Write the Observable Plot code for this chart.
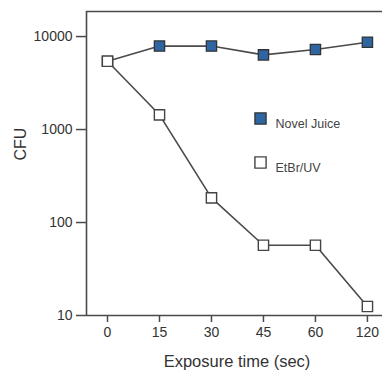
<!DOCTYPE html>
<html>
<head>
<meta charset="utf-8">
<script src="https://cdn.jsdelivr.net/npm/d3@7"></script>
<script src="https://cdn.jsdelivr.net/npm/@observablehq/plot@0.6"></script>
<style>
  html, body { margin: 0; padding: 0; background: white; }
</style>
</head>
<body>
<div id="chart"></div>
<script>
// ---- data ----
const timeLabels = ["0", "15", "30", "45", "60", "120"];
const novelJuice = [5430, 7900, 7900, 6350, 7250, 8700];
const etbrUV     = [5430, 1440, 184, 57, 57, 12.5];
const seriesNames = ["Novel Juice", "EtBr/UV"];
const yTicks = [10, 100, 1000, 10000];
const xTitle = "Exposure time (sec)";
const yTitle = "CFU";

// ---- build table ----
const idx = timeLabels.map((_, i) => i);
const novelData = idx.map(i => ({i, v: novelJuice[i]}));
const etbrData  = idx.map(i => ({i, v: etbrUV[i]}));

const lineColor = "#4a4a4a";
const blue = "#2d66a3";
const font = "'Liberation Sans', Arial, Helvetica, sans-serif";
const yMax = 18600, xLo = -0.404, xHi = 5.29;

const chart = Plot.plot({
  width: 382,
  height: 372,
  marginLeft: 86,
  marginRight: 0,
  marginTop: 11,
  marginBottom: 57,
  style: {fontFamily: font, fontSize: "14px", color: "#333", background: "white"},
  x: {type: "linear", domain: [xLo, xHi]},
  y: {type: "log", domain: [10, yMax]},
  marks: [
    // frame: left, top, bottom
    Plot.ruleX([xLo], {stroke: lineColor, strokeWidth: 1.6}),
    Plot.ruleY([yMax], {stroke: lineColor, strokeWidth: 1.6}),
    Plot.ruleY([10], {stroke: lineColor, strokeWidth: 1.6}),
    Plot.axisX(idx, {tickSize: 7, tickPadding: 5, tickFormat: i => timeLabels[i], label: null,
      stroke: lineColor, strokeWidth: 1.5, fill: "#333", fontSize: 14}),
    Plot.axisY(yTicks, {tickSize: 10, tickPadding: 4, tickFormat: d => String(d), label: null,
      stroke: lineColor, strokeWidth: 1.5, fill: "#333", fontSize: 14}),
    // axis titles
    Plot.text([xTitle], {frameAnchor: "bottom", dx: 2.5, dy: 46, fontSize: 16.5, fill: "#333", lineAnchor: "middle"}),
    Plot.text([yTitle], {frameAnchor: "left", dx: -65.5, dy: -3, rotate: -90, fontSize: 16, fill: "#333"}),
    // lines
    Plot.line(novelData, {x: "i", y: "v", stroke: lineColor, strokeWidth: 1.6}),
    Plot.line(etbrData, {x: "i", y: "v", stroke: lineColor, strokeWidth: 1.6}),
    // markers
    Plot.dot(novelData, {x: "i", y: "v", symbol: "square", r: 5.8, fill: blue, stroke: "#333", strokeWidth: 1.3}),
    Plot.dot(etbrData, {x: "i", y: "v", symbol: "square", r: 5.8, fill: "white", stroke: "#444", strokeWidth: 1.4}),
    // legend
    Plot.dot([seriesNames[0]], {frameAnchor: "top-left", dx: 174, dy: 107, symbol: "square", r: 6.3, fill: blue, stroke: "#333", strokeWidth: 1.3}),
    Plot.dot([seriesNames[1]], {frameAnchor: "top-left", dx: 174, dy: 151, symbol: "square", r: 6.3, fill: "white", stroke: "#444", strokeWidth: 1.4}),
    Plot.text([seriesNames[0]], {frameAnchor: "top-left", dx: 189, dy: 108, text: d => d, textAnchor: "start", fontSize: 12.5, fill: "#444"}),
    Plot.text([seriesNames[1]], {frameAnchor: "top-left", dx: 189, dy: 152, text: d => d, textAnchor: "start", fontSize: 12.5, fill: "#444"})
  ]
});
document.getElementById("chart").appendChild(chart);
</script>
</body>
</html>
